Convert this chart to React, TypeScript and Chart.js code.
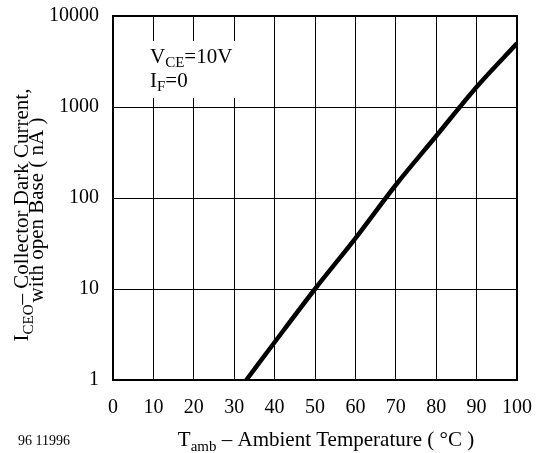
import { useEffect, useRef } from "react";
import { Chart, registerables } from "chart.js";

Chart.register(...registerables);

// Data
const temperatures = [33, 40, 50, 60, 70, 80, 90, 100];
const darkCurrent = [1, 2.6, 10, 36, 139, 480, 1660, 5000];
const xTickValues = [0, 10, 20, 30, 40, 50, 60, 70, 80, 90, 100];
const yTickValues = [1, 10, 100, 1000, 10000];

const SERIF = '"Liberation Serif", "Times New Roman", serif';

type Seg = { t: string; sub?: boolean };

function richWidth(ctx: CanvasRenderingContext2D, segs: Seg[], size: number, subSize: number) {
  let w = 0;
  for (const s of segs) {
    ctx.font = `${s.sub ? subSize : size}px ${SERIF}`;
    w += ctx.measureText(s.t).width;
  }
  return w;
}

function drawRich(
  ctx: CanvasRenderingContext2D,
  segs: Seg[],
  x: number,
  y: number,
  size: number,
  subSize: number,
  subShift: number
) {
  let cx = x;
  ctx.textAlign = "left";
  ctx.textBaseline = "alphabetic";
  for (const s of segs) {
    ctx.font = `${s.sub ? subSize : size}px ${SERIF}`;
    ctx.fillText(s.t, cx, s.sub ? y + subShift : y);
    cx += ctx.measureText(s.t).width;
  }
}

const decorPlugin = {
  id: "decor",
  afterDraw(chart: any) {
    const ctx: CanvasRenderingContext2D = chart.ctx;
    const { left, right, top, bottom } = chart.chartArea;
    ctx.save();

    // annotation box
    ctx.fillStyle = "#fff";
    ctx.fillRect(left + 27, top + 25, 105, 57);
    ctx.fillStyle = "#000";
    drawRich(ctx, [{ t: "V" }, { t: "CE", sub: true }, { t: "=10V" }], left + 37, top + 47, 21, 15, 4);
    drawRich(ctx, [{ t: "I" }, { t: "F", sub: true }, { t: "=0" }], left + 37, top + 71, 21, 15, 4);

    // frame
    ctx.strokeStyle = "#000";
    ctx.lineWidth = 2;
    ctx.strokeRect(left, top, right - left, bottom - top);

    // x title
    const xSegs: Seg[] = [{ t: "T" }, { t: "amb", sub: true }, { t: " \u2013 Ambient Temperature ( \u00B0C )" }];
    const xw = richWidth(ctx, xSegs, 21, 15);
    drawRich(ctx, xSegs, 326 - xw / 2, 446, 21, 15, 5);

    // figure number
    ctx.font = `14px ${SERIF}`;
    ctx.textAlign = "left";
    ctx.fillText("96 11996", 18, 445);

    // y title (rotated)
    ctx.save();
    ctx.rotate(-Math.PI / 2);
    const l1: Seg[] = [{ t: "I" }, { t: "CEO", sub: true }, { t: "\u2013 Collector Dark Current," }];
    const l2: Seg[] = [{ t: "with open Base ( nA )" }];
    const w1 = richWidth(ctx, l1, 21, 15);
    const w2 = richWidth(ctx, l2, 21, 15);
    // rotated coords: X' = -y, Y' = x
    drawRich(ctx, l1, -215 - w1 / 2, 28, 21, 15, 5);
    drawRich(ctx, l2, -210 - w2 / 2, 43, 21, 15, 5);
    ctx.restore();

    ctx.restore();
  },
};

export default function App() {
  const ref = useRef<HTMLCanvasElement | null>(null);

  useEffect(() => {
    if (!ref.current) return;
    const chart = new Chart(ref.current, {
      type: "line",
      data: {
        datasets: [
          {
            data: temperatures.map((t, i) => ({ x: t, y: darkCurrent[i] })),
            borderColor: "#000",
            borderWidth: 4.5,
            pointRadius: 0,
            cubicInterpolationMode: "monotone",
            fill: false,
          },
        ],
      },
      options: {
        animation: false,
        responsive: false,
        devicePixelRatio: 1,
        layout: { padding: { left: 0, right: 24, top: 16, bottom: 0 } },
        plugins: {
          legend: { display: false },
          tooltip: { enabled: false },
        },
        scales: {
          x: {
            type: "linear",
            min: 0,
            max: 100,
            afterBuildTicks: (scale: any) => {
              scale.ticks = xTickValues.map((v) => ({ value: v }));
            },
            afterFit: (scale: any) => {
              scale.height = 73;
              scale.paddingLeft = 0;
              scale.paddingRight = 0;
            },
            ticks: {
              color: "#000",
              font: { family: SERIF, size: 20 },
              padding: 16,
              maxRotation: 0,
              autoSkip: false,
              callback: (v: any) => String(v),
            },
            grid: { color: "#000", lineWidth: 1, drawTicks: false },
            border: { display: false },
          },
          y: {
            type: "logarithmic",
            min: 1,
            max: 10000,
            afterBuildTicks: (scale: any) => {
              scale.ticks = yTickValues.map((v) => ({ value: v }));
            },
            afterFit: (scale: any) => {
              scale.width = 113;
              scale.paddingTop = 0;
              scale.paddingBottom = 0;
            },
            ticks: {
              color: "#000",
              font: { family: SERIF, size: 20 },
              padding: 14,
              autoSkip: false,
              callback: (v: any) => String(v),
            },
            grid: { color: "#000", lineWidth: 1, drawTicks: false },
            border: { display: false },
          },
        },
      },
      plugins: [decorPlugin],
    } as any);
    return () => chart.destroy();
  }, []);

  return (
    <div style={{ position: "absolute", left: 0, top: 0, width: 541, height: 453, background: "#fff" }}>
      <canvas ref={ref} width={541} height={453} />
    </div>
  );
}
